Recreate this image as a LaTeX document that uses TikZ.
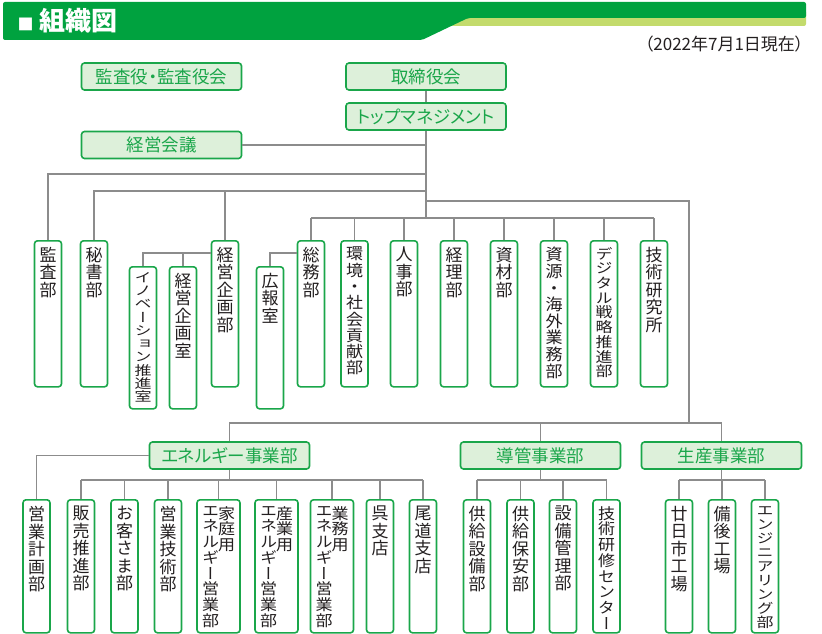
\documentclass[tikz,border=0pt]{standalone}
\usepackage{fontspec}
\usepackage{graphicx}
\setmainfont{Noto Sans CJK JP}[RawFeature=+palt]
\newfontfamily\tatefont[RawFeature=+vert]{Noto Sans CJK JP}
\usetikzlibrary{positioning}
\definecolor{kGreen}{HTML}{1AA64A}
\definecolor{kLight}{HTML}{DDF0DA}
\definecolor{kBar}{HTML}{00A23F}
\definecolor{kLime}{HTML}{C3DB6C}
\definecolor{kLine}{HTML}{8C8C8C}
\definecolor{kText}{HTML}{231F20}
\setlength{\lineskiplimit}{-20pt}
% squeezed column of characters
\newcommand\tatesq[2]{\scalebox{1}[#1]{\parbox[t]{22pt}{\centering #2}}}
\tikzset{
    % Boxes
    yoko/.style={rectangle, draw=kGreen, fill=kLight, line width=1.6pt, rounded corners=3pt,
                 minimum width=160pt, minimum height=27pt, inner sep=0pt,
                 text=kGreen, font=\fontsize{17.5}{17.5}\selectfont},
    tate/.style={rectangle, draw=kGreen, fill=white, line width=1.6pt, rounded corners=3pt,
                 minimum width=27pt, inner sep=0pt, anchor=north},
    tateW/.style={tate, minimum width=43pt},
    % Vertical text
    tateTxt/.style={anchor=north, align=center, inner sep=0pt, text=kText,
                    font=\tatefont\fontsize{17}{17.5}\selectfont},
    % Lines
    conn/.style={draw=kLine, line width=1.2pt}
}

\begin{document}
\begin{tikzpicture}[x=1pt, y=-1pt]
\useasboundingbox (0,0) rectangle (822,634);

% Title bar
\fill[kLime, rounded corners=2pt] (440,10) -- (806,10) -- (806,26) -- (451,26) -- cycle;
\fill[kBar, rounded corners=2pt] (3,2) -- (806,2) -- (806,18) -- (468,18) -- (422,40) -- (3,40) -- cycle;
\node[anchor=west, text=white, font=\bfseries\fontsize{26}{26}\selectfont] (title) at (14,21)
    {{\fontsize{16}{16}\selectfont ■}\hspace{6pt}組織図};
\node[anchor=east, text=kText, font=\fontsize{17}{17}\selectfont] (date) at (807,44) {（2022年7月1日現在）};

% Top management
\node[yoko] (kansayaku) at (161.5,76.5) {監査役・監査役会};
\node[yoko] (torishimari) at (426,76.5) {取締役会};
\node[yoko] (topmgmt) at (426,116.5) {トップマネジメント};
\node[yoko] (keieikaigi) at (161.5,145) {経営会議};

% Staff departments
\node[tate, minimum height=146pt] (kansabu) at (48,240) {};
\node[tateTxt, below=7pt of kansabu.north] {監\\査\\部};
\node[tate, minimum height=146pt] (hishobu) at (94,240) {};
\node[tateTxt, below=7pt of hishobu.north] {秘\\書\\部};
\node[tate, minimum height=146pt] (kikakubu) at (225,240) {};
\node[tateTxt, below=7pt of kikakubu.north] {経\\営\\企\\画\\部};
\node[tate, minimum height=142pt] (inov) at (143,266) {};
\node[tateTxt, below=6pt of inov.north] {\tatesq{0.76}{イ\\ノ\\ベ\\ー\\シ\\ョ\\ン\\推\\進\\室}};
\node[tate, minimum height=142pt] (kikakushitsu) at (183,266) {};
\node[tateTxt, below=7pt of kikakushitsu.north] {経\\営\\企\\画\\室};
\node[tate, minimum height=142pt] (koho) at (270,266) {};
\node[tateTxt, below=7pt of koho.north] {広\\報\\室};
\node[tate, minimum height=146pt] (somu) at (311,240) {};
\node[tateTxt, below=7pt of somu.north] {総\\務\\部};
\node[tate, minimum height=146pt] (kankyo) at (354.5,240) {};
\node[tateTxt, below=7pt of kankyo.north] {\tatesq{0.93}{環\\境\\・\\社\\会\\貢\\献\\部}};
\node[tate, minimum height=146pt] (jinji) at (404,240) {};
\node[tateTxt, below=7pt of jinji.north] {人\\事\\部};
\node[tate, minimum height=146pt] (keiri) at (454,240) {};
\node[tateTxt, below=7pt of keiri.north] {経\\理\\部};
\node[tate, minimum height=146pt] (shizai) at (504,240) {};
\node[tateTxt, below=7pt of shizai.north] {資\\材\\部};
\node[tate, minimum height=146pt] (shigen) at (554,240) {};
\node[tateTxt, below=7pt of shigen.north] {\tatesq{0.95}{資\\源\\・\\海\\外\\業\\務\\部}};
\node[tate, minimum height=146pt] (digital) at (604,240) {};
\node[tateTxt, below=7pt of digital.north] {\tatesq{0.84}{デ\\ジ\\タ\\ル\\戦\\略\\推\\進\\部}};
\node[tate, minimum height=146pt] (gikenjo) at (654,240) {};
\node[tateTxt, below=7pt of gikenjo.north] {技\\術\\研\\究\\所};

% Business divisions
\node[yoko] (enebu) at (229.5,455.5) {エネルギー事業部};
\node[yoko] (dokanbu) at (540.5,455.5) {導管事業部};
\node[yoko] (seisanbu) at (721.5,455.5) {生産事業部};

% Energy division
\node[tate, minimum height=133pt] (eigyokeikaku) at (36.5,499) {};
\node[tateTxt, below=7pt of eigyokeikaku.north] {営\\業\\計\\画\\部};
\node[tate, minimum height=133pt] (hanbai) at (81,499) {};
\node[tateTxt, below=7pt of hanbai.north] {販\\売\\推\\進\\部};
\node[tate, minimum height=133pt] (okyaku) at (124.5,499) {};
\node[tateTxt, below=7pt of okyaku.north] {お\\客\\さ\\ま\\部};
\node[tate, minimum height=133pt] (eigyogijutsu) at (168,499) {};
\node[tateTxt, below=7pt of eigyogijutsu.north] {営\\業\\技\\術\\部};
\node[tateW, minimum height=133pt] (katei) at (218.5,499) {};
\node[tateTxt, below=7pt of katei.north, xshift=-8pt] {\tatesq{0.9}{エ\\ネ\\ル\\ギ\\ー\\営\\業\\部}};
\node[tateTxt, below=7pt of katei.north, xshift=8pt] {\tatesq{0.9}{家\\庭\\用}};
\node[tateW, minimum height=133pt] (sangyo) at (276.5,499) {};
\node[tateTxt, below=7pt of sangyo.north, xshift=-8pt] {\tatesq{0.9}{エ\\ネ\\ル\\ギ\\ー\\営\\業\\部}};
\node[tateTxt, below=7pt of sangyo.north, xshift=8pt] {\tatesq{0.9}{産\\業\\用}};
\node[tateW, minimum height=133pt] (gyomu) at (332,499) {};
\node[tateTxt, below=7pt of gyomu.north, xshift=-8pt] {\tatesq{0.9}{エ\\ネ\\ル\\ギ\\ー\\営\\業\\部}};
\node[tateTxt, below=7pt of gyomu.north, xshift=8pt] {\tatesq{0.9}{業\\務\\用}};
\node[tate, minimum height=133pt] (kure) at (380,499) {};
\node[tateTxt, below=7pt of kure.north] {呉\\支\\店};
\node[tate, minimum height=133pt] (onomichi) at (423,499) {};
\node[tateTxt, below=7pt of onomichi.north] {尾\\道\\支\\店};

% Pipeline division
\node[tate, minimum height=133pt] (kyokyusetsubi) at (477,499) {};
\node[tateTxt, below=7pt of kyokyusetsubi.north] {供\\給\\設\\備\\部};
\node[tate, minimum height=133pt] (kyokyuhoan) at (520.5,499) {};
\node[tateTxt, below=7pt of kyokyuhoan.north] {供\\給\\保\\安\\部};
\node[tate, minimum height=133pt] (setsubikanri) at (563,499) {};
\node[tateTxt, below=7pt of setsubikanri.north] {設\\備\\管\\理\\部};
\node[tate, minimum height=133pt] (kenshu) at (606.5,499) {};
\node[tateTxt, below=7pt of kenshu.north] {\tatesq{0.9}{技\\術\\研\\修\\セ\\ン\\タ\\ー}};

% Production division
\node[tate, minimum height=133pt] (hatsukaichi) at (679,499) {};
\node[tateTxt, below=7pt of hatsukaichi.north] {廿\\日\\市\\工\\場};
\node[tate, minimum height=133pt] (bingo) at (722,499) {};
\node[tateTxt, below=7pt of bingo.north] {備\\後\\工\\場};
\node[tate, minimum height=133pt] (engineering) at (765,499) {};
\node[tateTxt, below=7pt of engineering.north] {\tatesq{0.8}{エ\\ン\\ジ\\ニ\\ア\\リ\\ン\\グ\\部}};

% Line levels
\coordinate (lvA) at (0,174);
\coordinate (lvB) at (0,191);
\coordinate (lvC) at (0,201);
\coordinate (lvD) at (0,218);
\coordinate (lvG) at (0,253);
\coordinate (lvE) at (0,423);
\coordinate (lvF) at (0,480);
\coordinate (jigyo) at (689,423);

% Upper tree
\draw[conn] (torishimari) -- (topmgmt);
\draw[conn] (keieikaigi) -- (keieikaigi -| topmgmt);
\draw[conn] (topmgmt) -- (topmgmt |- lvD);
\draw[conn] (topmgmt |- lvA) -| (kansabu);
\draw[conn] (topmgmt |- lvB) -| (hishobu);
\draw[conn] (kikakubu |- lvB) -- (kikakubu);
\draw[conn] (topmgmt |- lvC) -| (jigyo);
\draw[conn] (somu |- lvD) -- (gikenjo |- lvD);
\foreach \n in {somu,kankyo,jinji,keiri,shizai,shigen,digital,gikenjo}
    \draw[conn] (\n |- lvD) -- (\n);
\draw[conn] (kikakubu.west |- lvG) -| (inov);
\draw[conn] (kikakushitsu |- lvG) -- (kikakushitsu);
\draw[conn] (somu.west |- lvG) -| (koho);

% Lower tree
\draw[conn] (enebu) |- (seisanbu |- lvE) -- (seisanbu);
\draw[conn] (dokanbu |- lvE) -- (dokanbu);
\draw[conn] (enebu.west) -| (eigyokeikaku);
\draw[conn] (enebu) -- (enebu |- lvF);
\draw[conn] (hanbai |- lvF) -- (onomichi |- lvF);
\foreach \n in {hanbai,okyaku,eigyogijutsu,katei,sangyo,gyomu,kure,onomichi}
    \draw[conn] (\n |- lvF) -- (\n);
\draw[conn] (dokanbu) -- (dokanbu |- lvF);
\draw[conn] (kyokyusetsubi |- lvF) -- (kenshu |- lvF);
\foreach \n in {kyokyusetsubi,kyokyuhoan,setsubikanri,kenshu}
    \draw[conn] (\n |- lvF) -- (\n);
\draw[conn] (seisanbu) -- (seisanbu |- lvF);
\draw[conn] (hatsukaichi |- lvF) -- (engineering |- lvF);
\foreach \n in {hatsukaichi,bingo,engineering}
    \draw[conn] (\n |- lvF) -- (\n);

\end{tikzpicture}
\end{document}
